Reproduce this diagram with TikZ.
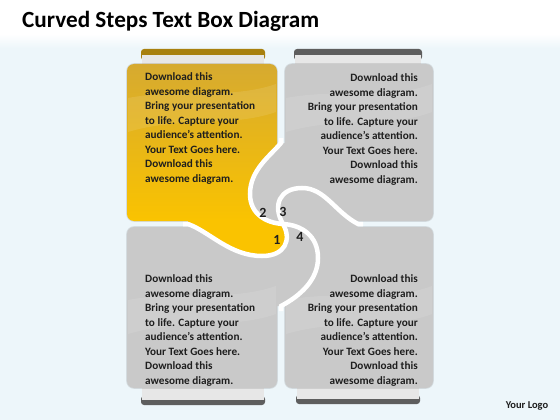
\documentclass[tikz,border=0pt]{standalone}
\usepackage{fontspec}
\setmainfont{Carlito}
\definecolor{bgblue}{HTML}{EDF6FA}
\definecolor{panelgray}{HTML}{C9C9C9}
\definecolor{ytop}{HTML}{D6AA30}
\definecolor{ymid}{HTML}{ECB918}
\definecolor{ybot}{HTML}{FAC300}
\definecolor{goldedge}{HTML}{A8800E}
\definecolor{grayedge}{HTML}{5E5E5E}
\definecolor{tablight}{HTML}{E7E7E7}
\definecolor{txt}{HTML}{1E1E1E}
\begin{document}
\begin{tikzpicture}[x=1pt,y=-1pt,
  sep/.style={white, line width=4.5pt},
  bodytxt/.style={font=\fontsize{11.2}{14.5}\selectfont\bfseries, text=txt, inner sep=0pt},
  num/.style={font=\fontsize{14}{16}\selectfont\bfseries, text=txt, inner sep=0pt},
  graypanel/.style={fill=panelgray, rounded corners=7pt},
  panelshadow/.style={draw=black, draw opacity=0.10, line width=1.6pt, rounded corners=7pt},
  gloss/.style={fill=white, fill opacity=0.10},
  darktab/.style={rounded corners=3pt},
  lighttab/.style={fill=tablight}]
\useasboundingbox (0,0) rectangle (560,420);
\fill[white] (0,0) rectangle (560,420);
\shade[top color=white,bottom color=bgblue] (0,34) rectangle (560,48);
\fill[bgblue] (0,48) rectangle (560,420);

% title
\node[anchor=west, inner sep=0pt, font=\fontsize{23.2}{27}\selectfont\bfseries, text=black] (title) at (22,21) {Curved Steps Text Box Diagram};

% tabs
\fill[goldedge, darktab] (141,49) rectangle (265,60);
\fill[lighttab] (142,55) rectangle (264,66);
\fill[grayedge, darktab] (294,49) rectangle (422,60);
\fill[lighttab] (295,55) rectangle (421,66);
\fill[grayedge, darktab] (141,396) rectangle (265,405);
\fill[lighttab] (142,384) rectangle (264,400);
\fill[grayedge, darktab] (296,395) rectangle (420,404);
\fill[lighttab] (297,384) rectangle (419,399);

% panel shadows
\path[panelshadow] (127,64) rectangle (277,221);
\path[panelshadow] (285,64) rectangle (433,221);
\path[panelshadow] (127,227) rectangle (277,388);
\path[panelshadow] (285,227) rectangle (433,388);

% panel bodies
\shade[top color=ytop, middle color=ymid, bottom color=ybot, rounded corners=7pt] (127,64) rectangle (277,221);
\path[graypanel] (285,64) rectangle (433,221);
\path[graypanel] (127,227) rectangle (277,388);
\path[graypanel] (285,227) rectangle (433,388);

% arms
\fill[panelgray] (358,224) .. controls (335,212) and (325,188) .. (302,188) .. controls (280,188) and (272,205) .. (283,224) -- (283,227) -- (358,227) -- cycle;
\fill[panelgray] (277,306) -- (281,306) .. controls (300,296) and (318,280) .. (318,258) .. controls (318,236) and (302,225) .. (283,224) -- (277,224) -- cycle;
\fill[ybot] (188,221) -- (188,224) .. controls (210,232) and (230,256) .. (262,256) .. controls (285,256) and (292,240) .. (283,224) -- (283,221) -- cycle;
\fill[panelgray] (285,143) -- (281,143) .. controls (270,156) and (250,170) .. (250,194) .. controls (250,214) and (266,223) .. (283,224) -- (285,224) -- cycle;

% gloss bands
\fill[gloss] (128,98) .. controls (180,88) and (230,100) .. (276,84) -- (276,112) .. controls (230,128) and (180,116) .. (128,132) -- cycle;
\fill[gloss] (286,98) .. controls (340,88) and (390,100) .. (432,84) -- (432,112) .. controls (390,128) and (340,116) .. (286,132) -- cycle;
\fill[gloss] (128,300) .. controls (180,290) and (230,302) .. (276,286) -- (276,314) .. controls (230,330) and (180,318) .. (128,334) -- cycle;
\fill[gloss] (286,300) .. controls (340,290) and (390,302) .. (432,286) -- (432,314) .. controls (390,330) and (340,318) .. (286,334) -- cycle;

% separators
\coordinate (hub) at (283,224);
\draw[sep] (281,138) -- (281,143) .. controls (270,156) and (250,170) .. (250,194) .. controls (250,214) and (266,223) .. (hub);
\draw[sep] (363,224) -- (358,224) .. controls (335,212) and (325,188) .. (302,188) .. controls (280,188) and (272,205) .. (hub);
\draw[sep] (281,311) -- (281,306) .. controls (300,296) and (318,280) .. (318,258) .. controls (318,236) and (302,225) .. (hub);
\draw[sep] (183,224) -- (188,224) .. controls (210,232) and (230,256) .. (262,256) .. controls (285,256) and (292,240) .. (hub);

% texts
\node[bodytxt, anchor=north west, align=left] (t1) at (145,72.5) {Download this\\awesome diagram.\\Bring your presentation\\to life. Capture your\\audience’s attention.\\Your Text Goes here.\\Download this\\awesome diagram.};
\node[bodytxt, anchor=north east, align=right] (t2) at (418,73.5) {Download this\\awesome diagram.\\Bring your presentation\\to life. Capture your\\audience’s attention.\\Your Text Goes here.\\Download this\\awesome diagram.};
\node[bodytxt, anchor=north west, align=left] (t3) at (145,274.5) {Download this\\awesome diagram.\\Bring your presentation\\to life. Capture your\\audience’s attention.\\Your Text Goes here.\\Download this\\awesome diagram.};
\node[bodytxt, anchor=north east, align=right] (t4) at (418,274.5) {Download this\\awesome diagram.\\Bring your presentation\\to life. Capture your\\audience’s attention.\\Your Text Goes here.\\Download this\\awesome diagram.};

% numbers
\node[num] (n1) at (277,239.5) {1};
\node[num] (n2) at (263,212.5) {2};
\node[num] (n3) at (283,212) {3};
\node[num] (n4) at (300,237) {4};

\node[inner sep=0pt, font=\fontsize{10.5}{12}\selectfont\bfseries, text=txt] (logo) at (527,406) {Your Logo};
\end{tikzpicture}
\end{document}
